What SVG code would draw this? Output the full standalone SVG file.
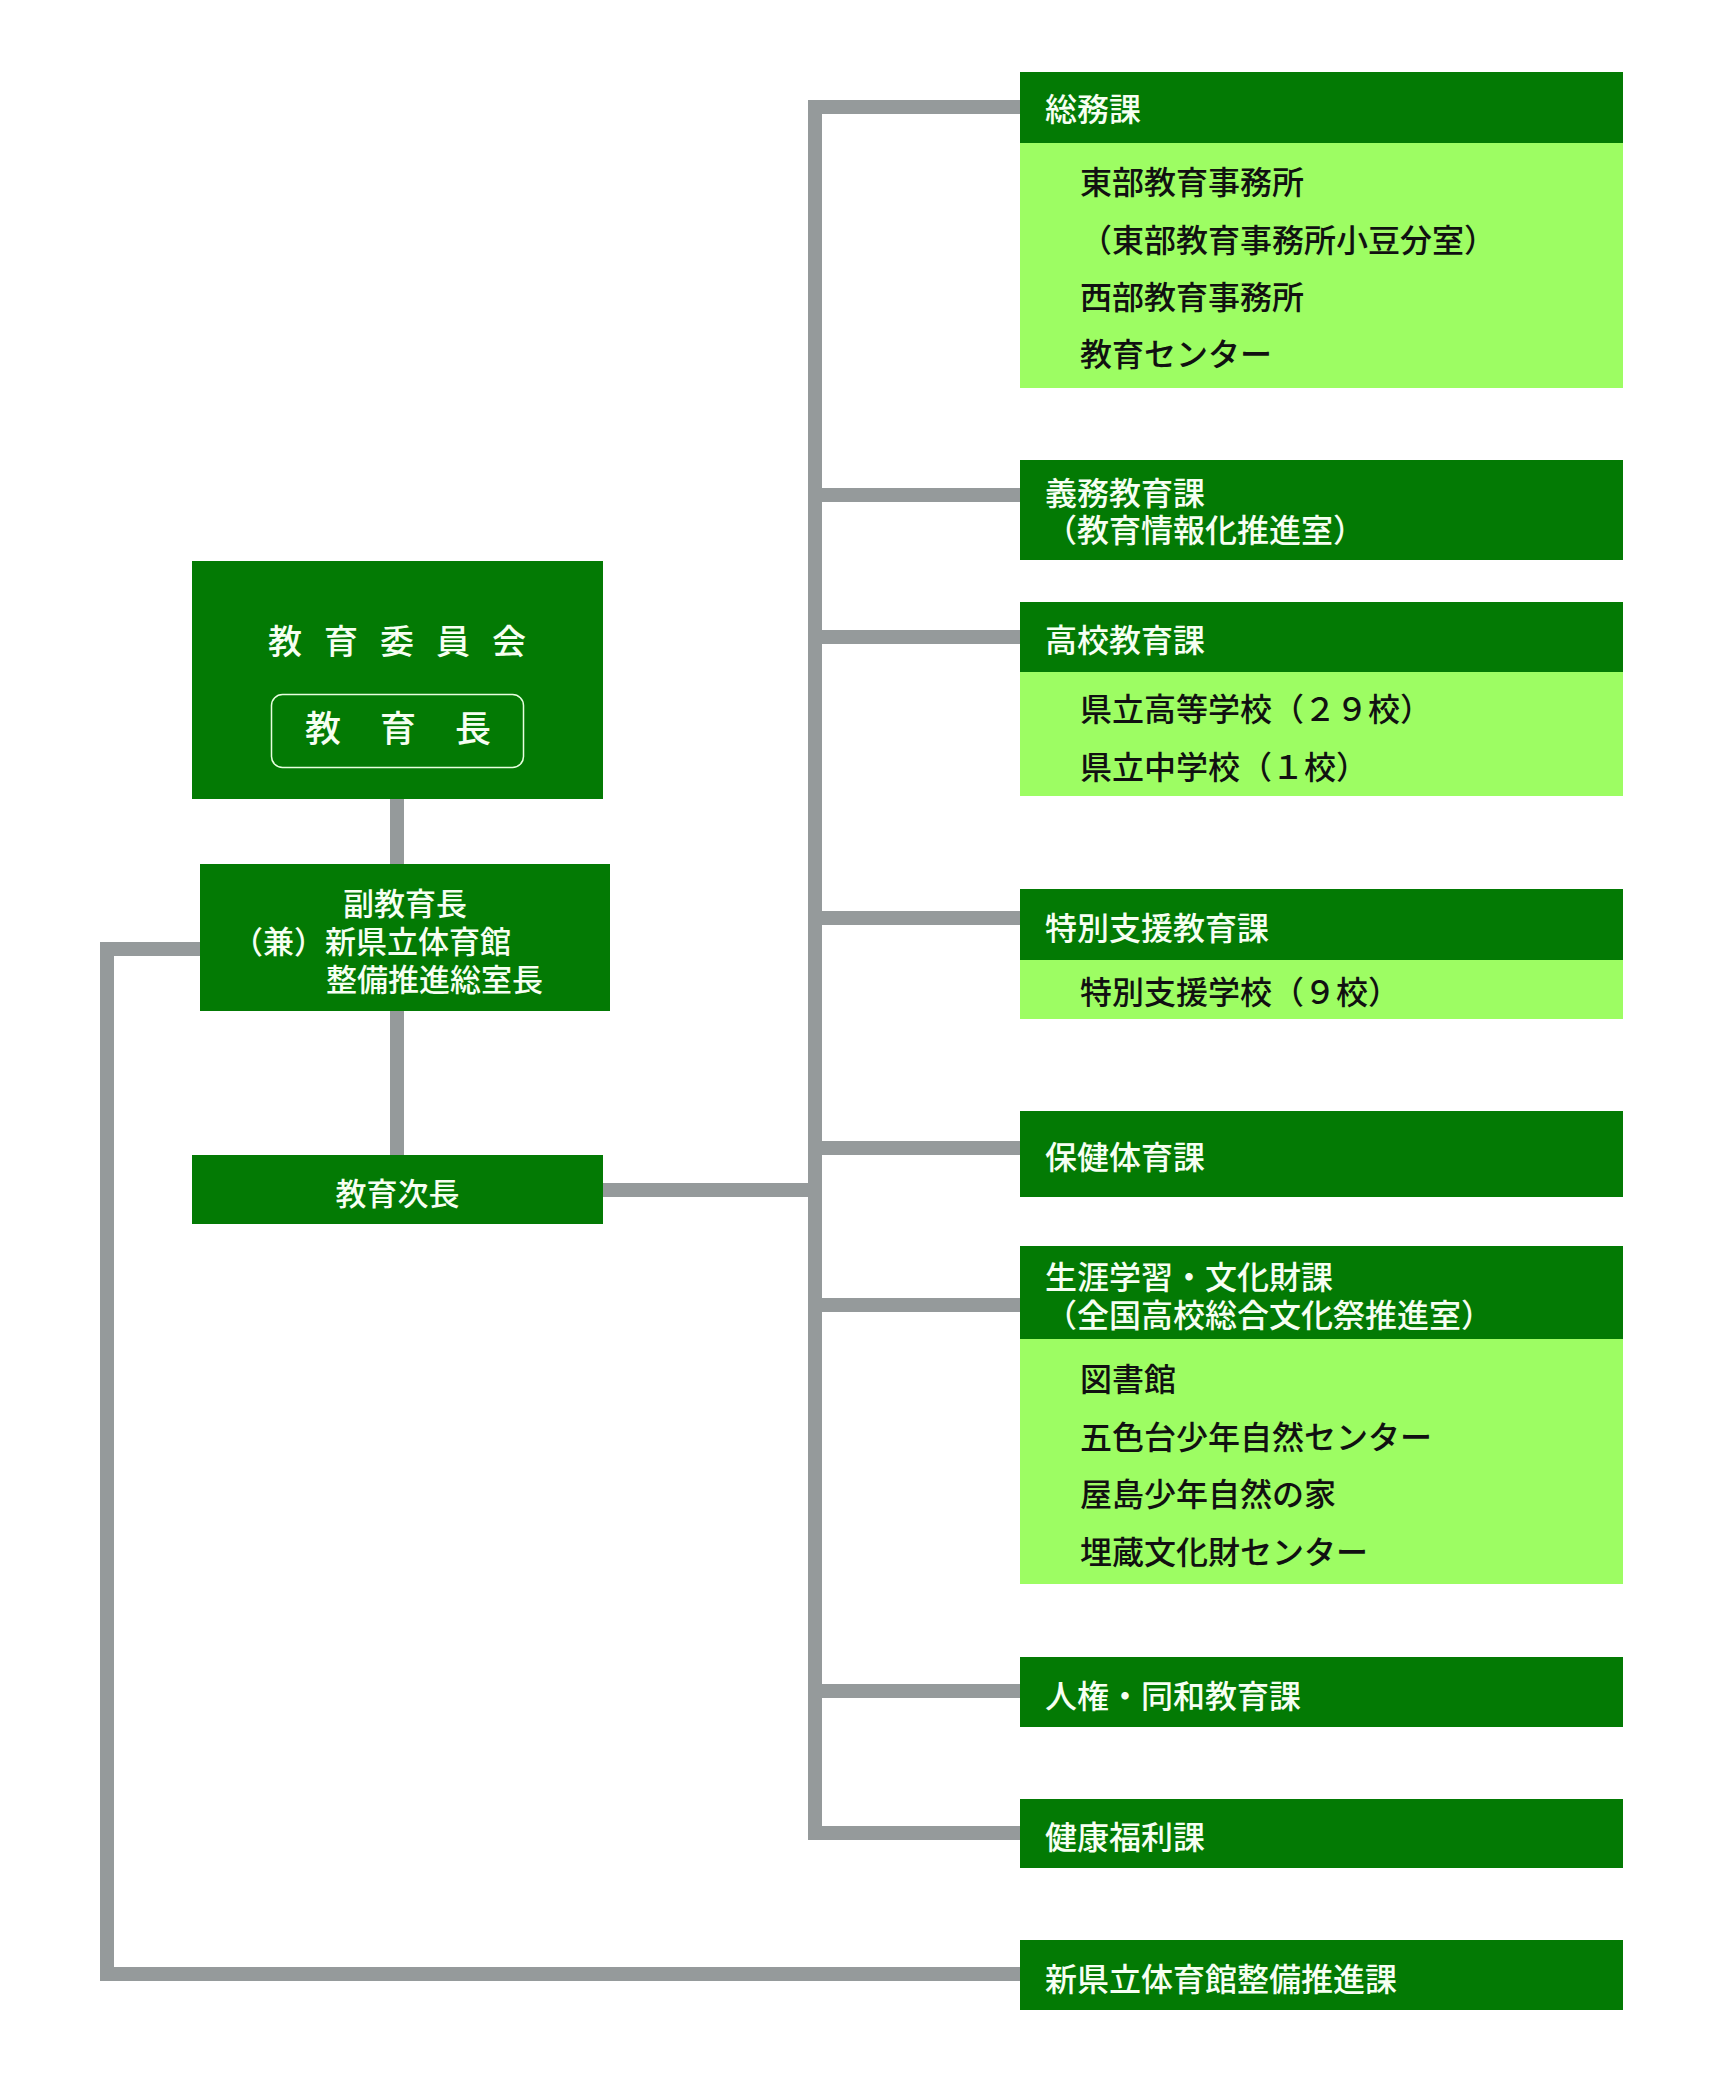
<svg xmlns="http://www.w3.org/2000/svg" width="1716" height="2088" viewBox="0 0 1716 2088">
<style>
.dk{fill:#037a04}
.lt{fill:#9dfd63}
.ln{fill:none;stroke:#959a9b;stroke-width:14;stroke-linejoin:miter;stroke-linecap:butt}
text{font-family:"Noto Sans CJK JP","Noto Sans CJK SC",sans-serif;font-weight:500;font-size:31px}
.w{fill:#f6fff2}
.b{fill:#111}
.c{text-anchor:middle}
.r{font-size:32px}
</style>
<rect width="1716" height="2088" fill="#ffffff"/>
<g id="connectors">
<path class="ln" d="M1020 107 H815 V1833 H1020"/>
<path class="ln" d="M815 495 H1020"/>
<path class="ln" d="M815 637 H1020"/>
<path class="ln" d="M815 918 H1020"/>
<path class="ln" d="M815 1148 H1020"/>
<path class="ln" d="M815 1305 H1020"/>
<path class="ln" d="M815 1691 H1020"/>
<path class="ln" d="M603 1190 H815"/>
<path class="ln" d="M397 799 V864"/>
<path class="ln" d="M397 1011 V1155"/>
<path class="ln" d="M200 949 H107 V1974 H1020"/>
</g>
<g id="kyouikuiinkai">
<rect class="dk" x="192" y="561" width="411" height="238"/>
<text class="w" x="268 324 380 436 492" y="654" style="font-size:34px">教育委員会</text>
<rect x="271.5" y="694.5" width="252" height="73" rx="11" fill="none" stroke="#e8ffe0" stroke-width="1.5"/>
<text class="w" x="305 380 455" y="742" style="font-size:36px">教育長</text>
</g>
<g id="fukukyouikuchou">
<rect class="dk" x="200" y="864" width="410" height="147"/>
<text class="w" x="343" y="915">副教育長</text>
<text class="w" x="232" y="953">（兼）新県立体育館</text>
<text class="w" x="326" y="991">整備推進総室長</text>
</g>
<g id="kyouikujichou">
<rect class="dk" x="192" y="1155" width="411" height="69"/>
<text class="w c" x="397.5" y="1205">教育次長</text>
</g>
<g id="soumuka">
<rect class="dk" x="1020" y="72" width="603" height="71"/>
<rect class="lt" x="1020" y="143" width="603" height="245"/>
<text class="w r" x="1045" y="121">総務課</text>
<text class="b r" x="1080" y="194">東部教育事務所</text>
<text class="b r" x="1080" y="252">（東部教育事務所小豆分室）</text>
<text class="b r" x="1080" y="309">西部教育事務所</text>
<text class="b r" x="1080" y="366">教育センター</text>
</g>
<g id="gimukyouikuka">
<rect class="dk" x="1020" y="460" width="603" height="100"/>
<text class="w r" x="1045" y="505">義務教育課</text>
<text class="w r" x="1045" y="542">（教育情報化推進室）</text>
</g>
<g id="koukoukyouikuka">
<rect class="dk" x="1020" y="602" width="603" height="70"/>
<rect class="lt" x="1020" y="672" width="603" height="124"/>
<text class="w r" x="1045" y="652">高校教育課</text>
<text class="b r" x="1080" y="721">県立高等学校（２９校）</text>
<text class="b r" x="1080" y="779">県立中学校（１校）</text>
</g>
<g id="tokubetsushienkyouikuka">
<rect class="dk" x="1020" y="889" width="603" height="71"/>
<rect class="lt" x="1020" y="960" width="603" height="59"/>
<text class="w r" x="1045" y="940">特別支援教育課</text>
<text class="b r" x="1080" y="1004">特別支援学校（９校）</text>
</g>
<g id="hokentaiikuka">
<rect class="dk" x="1020" y="1111" width="603" height="86"/>
<text class="w r" x="1045" y="1169">保健体育課</text>
</g>
<g id="shougaigakushuu">
<rect class="dk" x="1020" y="1246" width="603" height="93"/>
<rect class="lt" x="1020" y="1339" width="603" height="245"/>
<text class="w r" x="1045" y="1289">生涯学習・文化財課</text>
<text class="w r" x="1045" y="1327">（全国高校総合文化祭推進室）</text>
<text class="b r" x="1080" y="1391">図書館</text>
<text class="b r" x="1080" y="1449">五色台少年自然センター</text>
<text class="b r" x="1080" y="1506">屋島少年自然の家</text>
<text class="b r" x="1080" y="1564">埋蔵文化財センター</text>
</g>
<g id="jinken">
<rect class="dk" x="1020" y="1657" width="603" height="70"/>
<text class="w r" x="1045" y="1708">人権・同和教育課</text>
</g>
<g id="kenkoufukurika">
<rect class="dk" x="1020" y="1799" width="603" height="69"/>
<text class="w r" x="1045" y="1849">健康福利課</text>
</g>
<g id="shintaiikukan">
<rect class="dk" x="1020" y="1940" width="603" height="70"/>
<text class="w r" x="1045" y="1991">新県立体育館整備推進課</text>
</g>
</svg>
